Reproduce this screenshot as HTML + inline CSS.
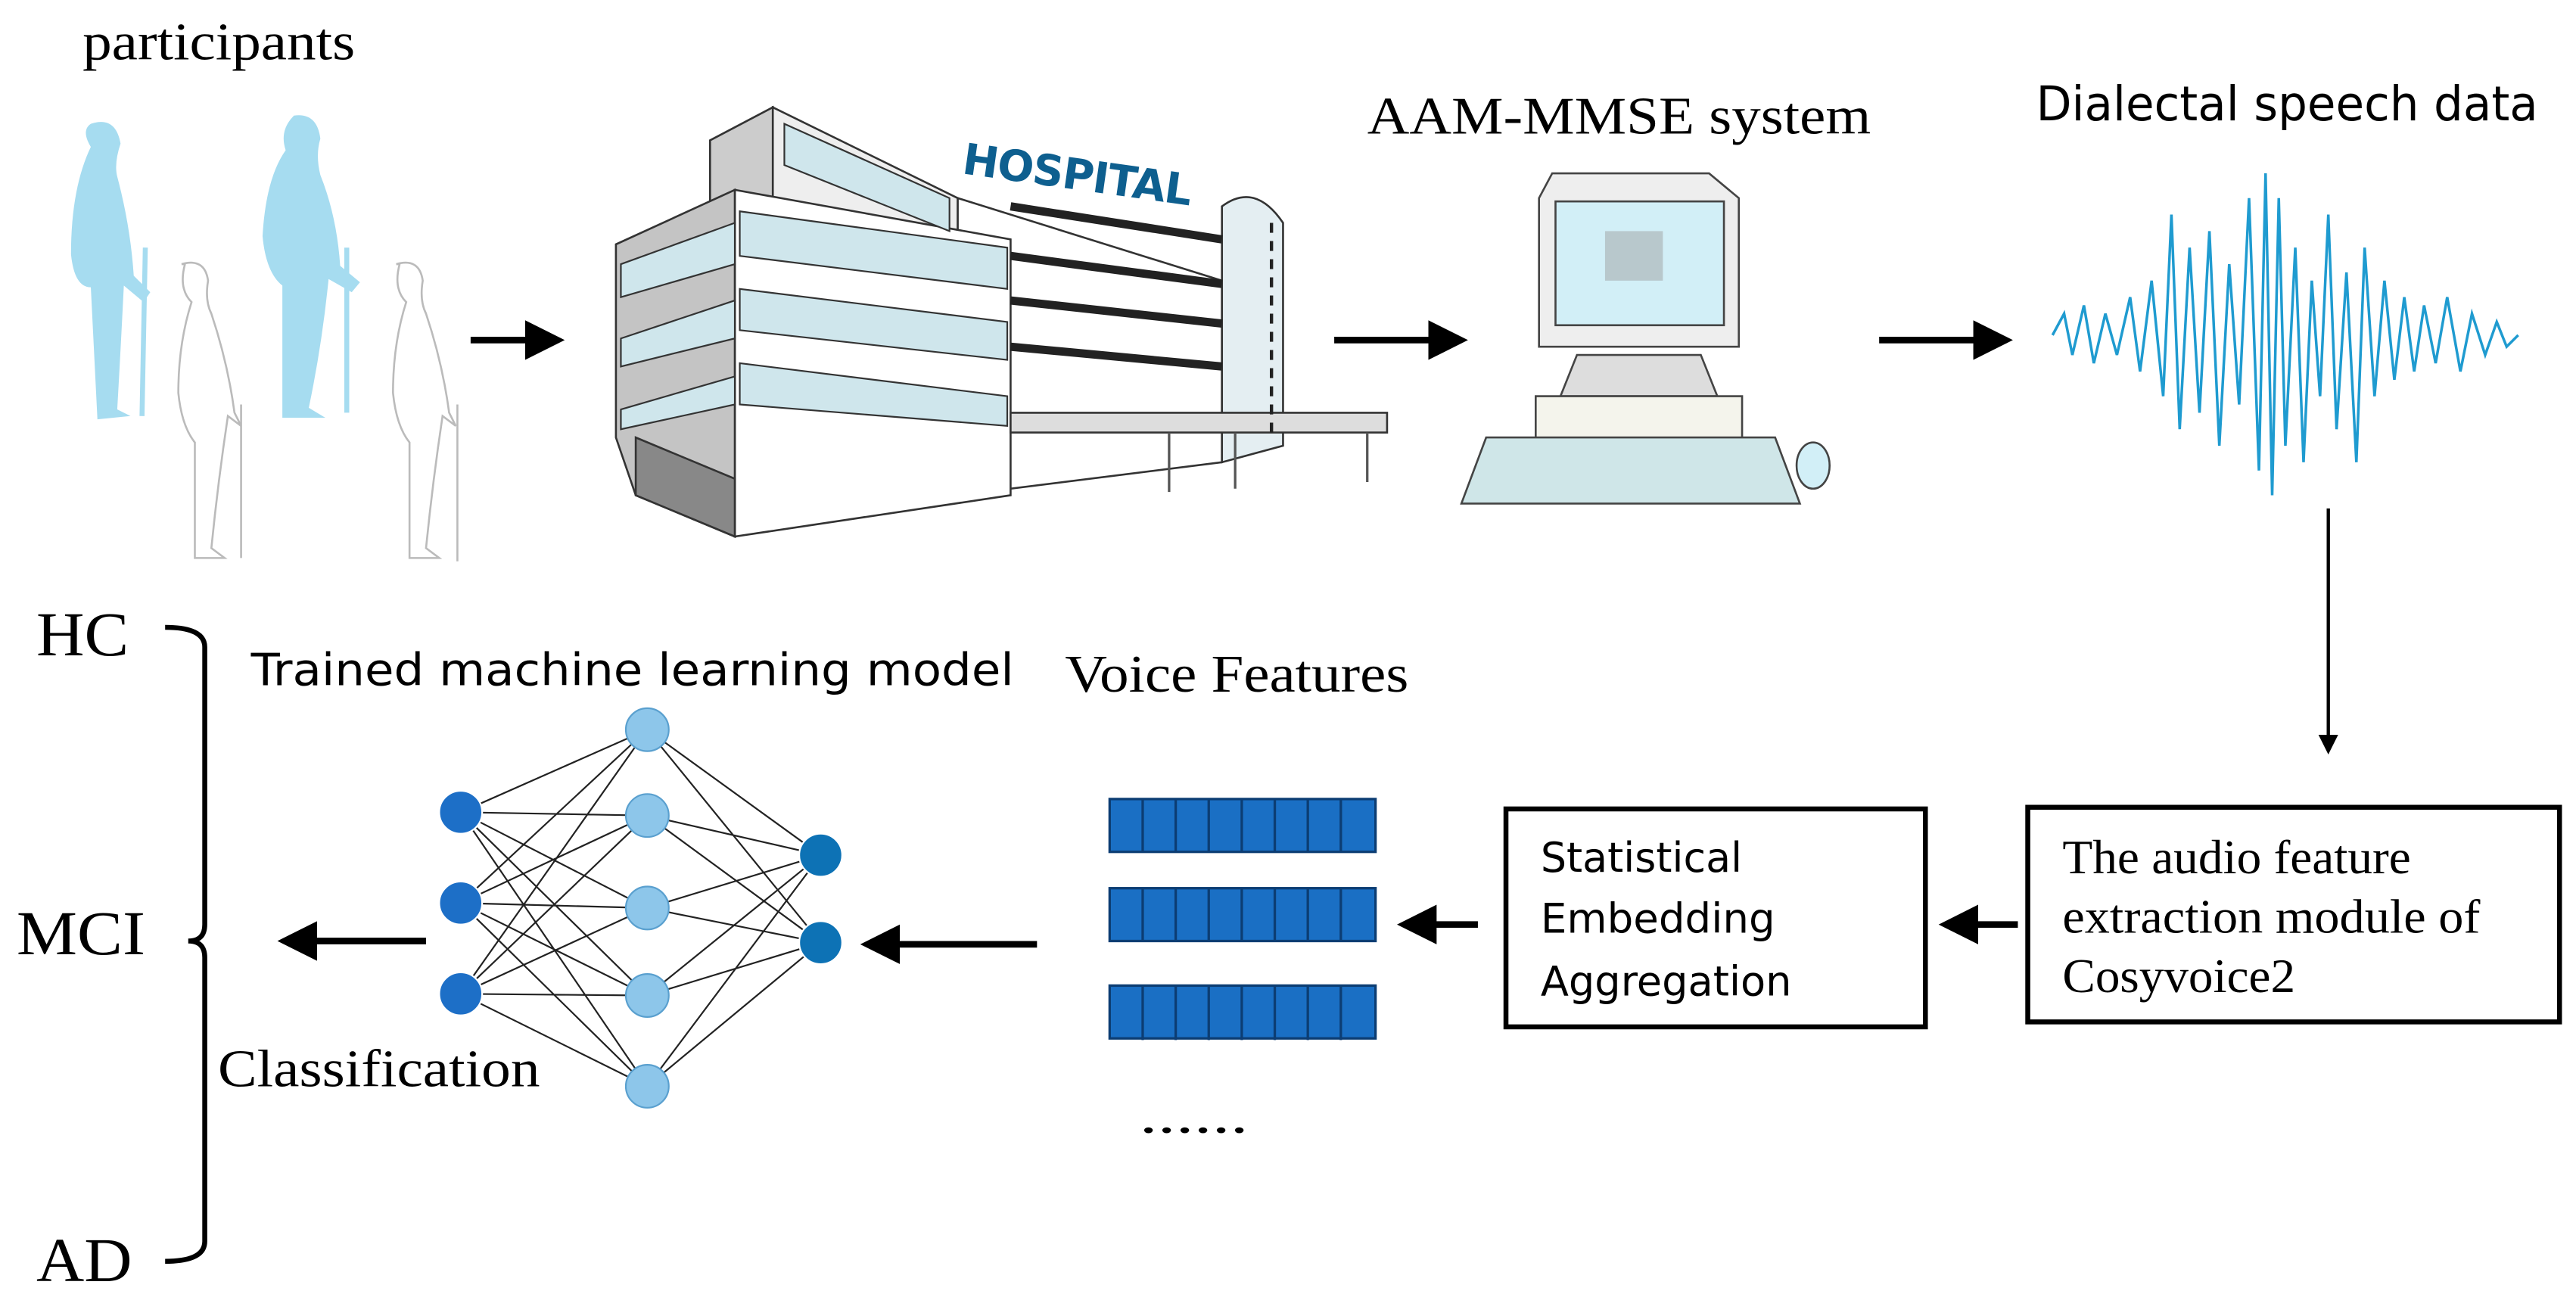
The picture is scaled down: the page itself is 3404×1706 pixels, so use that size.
<!DOCTYPE html>
<html><head><meta charset="utf-8"><style>
html,body{margin:0;padding:0;background:#fff;}
svg{display:block;}
.s{font-family:"Liberation Serif",serif;}
.a{font-family:"DejaVu Sans","Liberation Sans",sans-serif;}
</style></head><body>
<svg width="3404" height="1706" viewBox="0 0 1560 782" preserveAspectRatio="none" xmlns="http://www.w3.org/2000/svg">
<defs>
<marker id="ah" markerWidth="6" markerHeight="6" refX="5" refY="3" orient="auto" markerUnits="strokeWidth"><path d="M0,0 L6,3 L0,6 z" fill="#000"/></marker>
</defs>
<text x="50" y="36" class="s" font-size="32" textLength="165" lengthAdjust="spacingAndGlyphs">participants</text>
<!-- people -->
<g fill="#a6dcf0">
<path d="M55,75 q15,-5 18,12 q-4,12 -2,20 q8,30 10,60 l10,10 l-4,6 l-12,-10 q-2,40 -4,75 l8,4 l-20,2 l-4,-80 q-10,0 -12,-20 q0,-40 12,-65 q-6,-10 0,-14z"/>
<path d="M178,70 q14,-2 16,14 q-3,10 0,22 q10,25 12,55 l12,10 l-5,6 l-14,-8 q-4,40 -12,78 l10,6 l-26,0 l0,-80 q-10,-8 -12,-30 q2,-35 14,-52 q-4,-12 5,-21z"/>
</g>
<line x1="88" y1="150" x2="86" y2="252" stroke="#a6dcf0" stroke-width="3"/>
<line x1="210" y1="150" x2="210" y2="250" stroke="#a6dcf0" stroke-width="3"/>
<g fill="none" stroke="#bbb" stroke-width="1.2">
<path d="M110,160 q14,-4 16,10 q-2,12 2,20 q10,30 14,60 l4,8 l-8,-6 q-6,40 -10,80 l8,6 l-18,0 l0,-70 q-8,-10 -10,-30 q0,-30 8,-55 q-8,-8 -4,-23z"/>
<path d="M240,160 q14,-4 16,10 q-2,12 2,20 q10,30 14,60 l4,8 l-8,-6 q-6,40 -10,80 l8,6 l-18,0 l0,-70 q-8,-10 -10,-30 q0,-30 8,-55 q-8,-8 -4,-23z"/>
<line x1="146" y1="245" x2="146" y2="338"/><line x1="277" y1="245" x2="277" y2="340"/>
</g>
<!-- arrows top -->
<g stroke="#000" stroke-width="4" marker-end="url(#ah)">
<line x1="285" y1="206" x2="338" y2="206"/>
<line x1="808" y1="206" x2="885" y2="206"/>
<line x1="1138" y1="206" x2="1215" y2="206"/>
</g>
<!-- hospital -->
<g stroke="#333" stroke-width="1.2">
<path d="M468,65 L580,120 L580,300 L468,312z" fill="#eee"/>
<path d="M430,85 L468,65 L468,312 L430,300z" fill="#ccc"/>
<path d="M580,120 L740,170 L740,280 L580,300z" fill="#fff"/>
<path d="M740,125 q20,-15 37,10 L777,270 L740,280z" fill="#e4eef2"/>
<path d="M445,115 L612,145 L612,300 L445,325z" fill="#fff"/>
<path d="M373,148 L445,115 L445,325 L385,300 L373,265z" fill="#c4c4c4"/>
<path d="M385,265 L445,290 L445,325 L385,300z" fill="#888"/>
<path d="M612,250 L840,250 L840,262 L612,262z" fill="#ddd"/>
</g>
<g fill="#cfe6ec" stroke="#333" stroke-width="1">
<path d="M448,128 L610,150 L610,175 L448,155z"/><path d="M448,175 L610,195 L610,218 L448,200z"/><path d="M448,220 L610,240 L610,258 L448,245z"/>
<path d="M376,160 L445,135 L445,160 L376,180z"/><path d="M376,205 L445,182 L445,205 L376,222z"/><path d="M376,248 L445,228 L445,245 L376,260z"/>
<path d="M475,75 L575,120 L575,140 L475,100z"/>
</g>
<g stroke="#222" stroke-width="5">
<line x1="612" y1="125" x2="740" y2="145"/><line x1="612" y1="155" x2="740" y2="172"/><line x1="612" y1="182" x2="740" y2="196"/><line x1="612" y1="210" x2="740" y2="222"/>
</g>
<line x1="770" y1="135" x2="770" y2="265" stroke="#222" stroke-width="2" stroke-dasharray="6,5"/>
<g stroke="#555" stroke-width="1.5"><line x1="708" y1="262" x2="708" y2="298"/><line x1="748" y1="262" x2="748" y2="296"/><line x1="828" y1="262" x2="828" y2="292"/></g>
<text x="582" y="105" class="a" font-size="26" font-weight="bold" fill="#0e5f8f" transform="rotate(8 582 105)" textLength="140">HOSPITAL</text>
<text x="828" y="81" class="s" font-size="32" textLength="305" lengthAdjust="spacingAndGlyphs">AAM-MMSE system</text>
<!-- computer -->
<g stroke="#444" stroke-width="1.2">
<path d="M940,105 L1035,105 L1053,120 L1053,210 L932,210 L932,120z" fill="#eee"/>
<rect x="942" y="122" width="102" height="75" fill="#d2eff7"/>
<path d="M955,215 L1030,215 L1040,240 L945,240z" fill="#ddd"/>
<rect x="930" y="240" width="125" height="40" fill="#f4f4ec"/>
<path d="M900,265 L1075,265 L1090,305 L885,305z" fill="#cfe6e8"/>
<ellipse cx="1098" cy="282" rx="10" ry="14" fill="#d2eff7"/>
</g>
<rect x="972" y="140" width="35" height="30" fill="#b8c8cc"/>
<text x="1233" y="73" class="a" font-size="29" textLength="304" lengthAdjust="spacingAndGlyphs">Dialectal speech data</text>
<!-- waveform -->
<polyline fill="none" stroke="#1f9bd0" stroke-width="1.6" points="1243,203 1250,190 1255,215 1262,185 1268,220 1275,190 1282,215 1290,180 1296,225 1303,170 1310,240 1315,130 1320,260 1326,150 1332,250 1338,140 1344,270 1350,160 1356,245 1362,120 1368,285 1372,105 1376,300 1380,120 1384,270 1390,150 1395,280 1400,170 1405,240 1410,130 1415,260 1421,165 1427,280 1432,150 1438,240 1444,170 1450,230 1456,180 1462,225 1468,185 1475,220 1482,180 1490,225 1497,190 1505,215 1512,195 1518,210 1525,203"/>
<!-- down arrow -->
<line x1="1410" y1="308" x2="1410" y2="455" stroke="#000" stroke-width="2" marker-end="url(#ah)"/>
<!-- boxes -->
<rect x="1228" y="489" width="322" height="130" fill="#fff" stroke="#000" stroke-width="3"/>
<text class="s" font-size="29"><tspan x="1249" y="529" textLength="211" lengthAdjust="spacingAndGlyphs">The audio feature</tspan></text>
<text class="s" font-size="29"><tspan x="1249" y="565" textLength="253" lengthAdjust="spacingAndGlyphs">extraction module of</tspan></text>
<text class="s" font-size="29"><tspan x="1249" y="601" textLength="141" lengthAdjust="spacingAndGlyphs">Cosyvoice2</tspan></text>
<rect x="912" y="490" width="254" height="132" fill="#fff" stroke="#000" stroke-width="3"/>
<text class="a" font-size="25" x="933" y="528" textLength="122" lengthAdjust="spacingAndGlyphs">Statistical</text>
<text class="a" font-size="25" x="933" y="565" textLength="142" lengthAdjust="spacingAndGlyphs">Embedding</text>
<text class="a" font-size="25" x="933" y="603" textLength="152" lengthAdjust="spacingAndGlyphs">Aggregation</text>
<g stroke="#000" stroke-width="4" marker-end="url(#ah)">
<line x1="1222" y1="560" x2="1178" y2="560"/>
<line x1="895" y1="560" x2="850" y2="560"/>
<line x1="628" y1="572" x2="525" y2="572"/>
<line x1="258" y1="570" x2="172" y2="570"/>
</g>
<!-- feature bars -->
<g fill="#1a6fc4" stroke="#0c3d73" stroke-width="1.5">
<rect x="672" y="484" width="161" height="32"/><rect x="672" y="538" width="161" height="32"/><rect x="672" y="597" width="161" height="32"/>
</g>
<g stroke="#0c3d73" stroke-width="1.5">
<path d="M692,484v32M712,484v32M732,484v32M752,484v32M772,484v32M792,484v32M812,484v32M692,538v32M712,538v32M732,538v32M752,538v32M772,538v32M792,538v32M812,538v32M692,597v33M712,597v33M732,597v33M752,597v33M772,597v33M792,597v33M812,597v33"/>
</g>
<text x="690" y="686" class="s" font-size="30" textLength="66" lengthAdjust="spacingAndGlyphs">......</text>
<text x="645" y="419" class="s" font-size="32" textLength="208" lengthAdjust="spacingAndGlyphs">Voice Features</text>
<text x="152" y="415" class="a" font-size="27" textLength="462" lengthAdjust="spacingAndGlyphs">Trained machine learning model</text>
<!-- NN -->
<g stroke="#222" stroke-width="1">
<path d="M279,492L392,442M279,492L392,494M279,492L392,550M279,492L392,603M279,492L392,658M279,547L392,442M279,547L392,494M279,547L392,550M279,547L392,603M279,547L392,658M279,602L392,442M279,602L392,494M279,602L392,550M279,602L392,603M279,602L392,658M392,442L497,518M392,494L497,518M392,550L497,518M392,603L497,518M392,658L497,518M392,442L497,571M392,494L497,571M392,550L497,571M392,603L497,571M392,658L497,571"/>
</g>
<g fill="#1d6fc7" stroke="#fff"><circle cx="279" cy="492" r="13"/><circle cx="279" cy="547" r="13"/><circle cx="279" cy="602" r="13"/></g>
<g fill="#8dc6ea" stroke="#5aa0cf"><circle cx="392" cy="442" r="13"/><circle cx="392" cy="494" r="13"/><circle cx="392" cy="550" r="13"/><circle cx="392" cy="603" r="13"/><circle cx="392" cy="658" r="13"/></g>
<g fill="#0d72b5" stroke="#fff"><circle cx="497" cy="518" r="13"/><circle cx="497" cy="571" r="13"/></g>
<text x="132" y="658" class="s" font-size="32" textLength="195" lengthAdjust="spacingAndGlyphs">Classification</text>
<!-- brace -->
<path d="M100,380 q24,0 24,12 L124,560 q0,10 -10,10 q10,0 10,10 L124,752 q0,12 -24,12" fill="none" stroke="#000" stroke-width="3"/>
<text x="22" y="397" class="s" font-size="38" textLength="56" lengthAdjust="spacingAndGlyphs">HC</text>
<text x="10" y="578" class="s" font-size="38" textLength="78" lengthAdjust="spacingAndGlyphs">MCI</text>
<text x="22" y="776" class="s" font-size="38" textLength="58" lengthAdjust="spacingAndGlyphs">AD</text>
</svg>
</body></html>
